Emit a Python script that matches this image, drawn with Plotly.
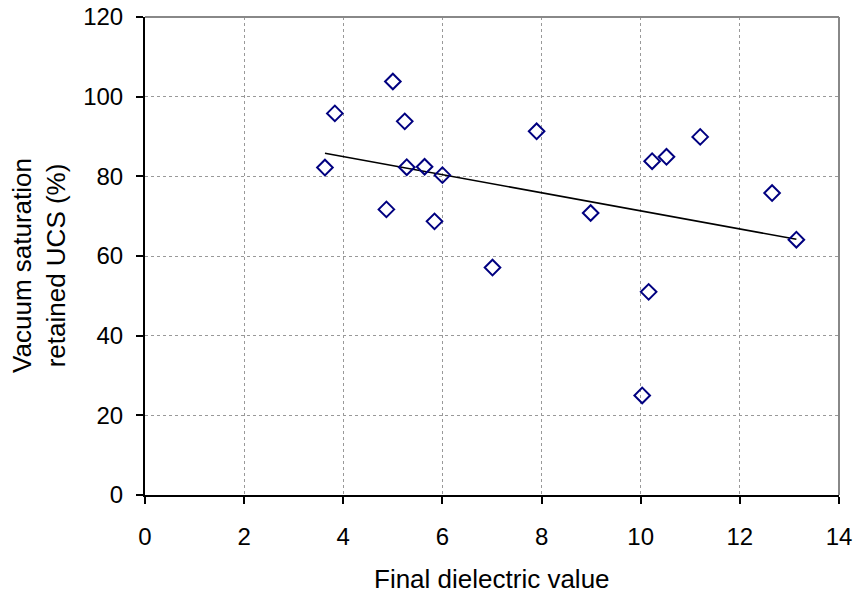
import plotly.graph_objects as go

# Data
dielectric = [5.00, 3.83, 5.24, 3.63, 5.28, 5.64, 6.00, 4.87, 5.84,
              7.90, 8.99, 10.23, 10.52, 11.20, 12.65, 13.14,
              7.01, 10.16, 10.03]
retained_ucs = [103.8, 95.8, 93.8, 82.2, 82.3, 82.4, 80.3, 71.7, 68.7,
                91.3, 70.8, 83.8, 84.9, 89.9, 75.8, 64.1,
                57.1, 51.0, 25.0]

trend_x = [3.63, 13.14]
trend_y = [85.8, 64.2]

x_ticks = [0, 2, 4, 6, 8, 10, 12, 14]
y_ticks = [0, 20, 40, 60, 80, 100, 120]

x_title = "Final dielectric value"
y_title = "Vacuum saturation<br>retained UCS (%)"

FONT = "Liberation Sans, Arial, sans-serif"
FS_TICK = 24
FS_TITLE = 26

fig = go.Figure()
fig.add_trace(go.Scatter(
    x=trend_x, y=trend_y, mode="lines",
    line=dict(color="black", width=1.6),
    showlegend=False, hoverinfo="skip"))
fig.add_trace(go.Scatter(
    x=dielectric, y=retained_ucs, mode="markers",
    marker=dict(symbol="diamond-open", size=12, color="#000080",
                line=dict(width=2, color="#000080")),
    showlegend=False))

# grey frame on the top and right sides of the plot area
fig.add_shape(type="line", xref="paper", yref="paper", x0=0, y0=1, x1=1, y1=1,
              line=dict(color="#888888", width=2), layer="above")
fig.add_shape(type="line", xref="paper", yref="paper", x0=1, y0=0, x1=1, y1=1,
              line=dict(color="#888888", width=2), layer="above")

fig.add_annotation(text=x_title, xref="paper", yref="paper",
                   x=0.5, y=-0.176, xanchor="center", yanchor="middle",
                   showarrow=False, font=dict(family=FONT, size=FS_TITLE, color="black"))
fig.add_annotation(text=y_title, xref="paper", yref="paper",
                   x=-0.153, y=0.481, xanchor="center", yanchor="middle",
                   textangle=-90, showarrow=False,
                   font=dict(family=FONT, size=FS_TITLE, color="black"))

axis_common = dict(
    showline=True, linecolor="black", linewidth=2,
    ticks="outside", ticklen=7, tickwidth=2, tickcolor="black",
    showgrid=True, gridcolor="#999999", gridwidth=1, griddash="dot",
    zeroline=False, automargin=False, ticklabeloverflow="allow",
    tickfont=dict(family=FONT, size=FS_TICK, color="black"),
)

fig.update_layout(
    width=854, height=594,
    margin=dict(l=145, r=15, t=17, b=99),
    paper_bgcolor="white", plot_bgcolor="white",
    font=dict(family=FONT, size=FS_TICK, color="black"),
    xaxis=dict(range=[0, 14], tickvals=x_ticks,
               ticktext=[str(v) for v in x_ticks], ticklabelstandoff=12,
               **axis_common),
    yaxis=dict(range=[0, 120], tickvals=y_ticks,
               ticktext=[str(v) for v in y_ticks], ticklabelstandoff=8,
               **axis_common),
)

# remove the page's default body margin so the figure sits at the top-left corner
fig.write_html("out.html",
               config={"displayModeBar": False},
               post_script="document.body.style.margin='0';document.body.style.overflow='hidden';")
